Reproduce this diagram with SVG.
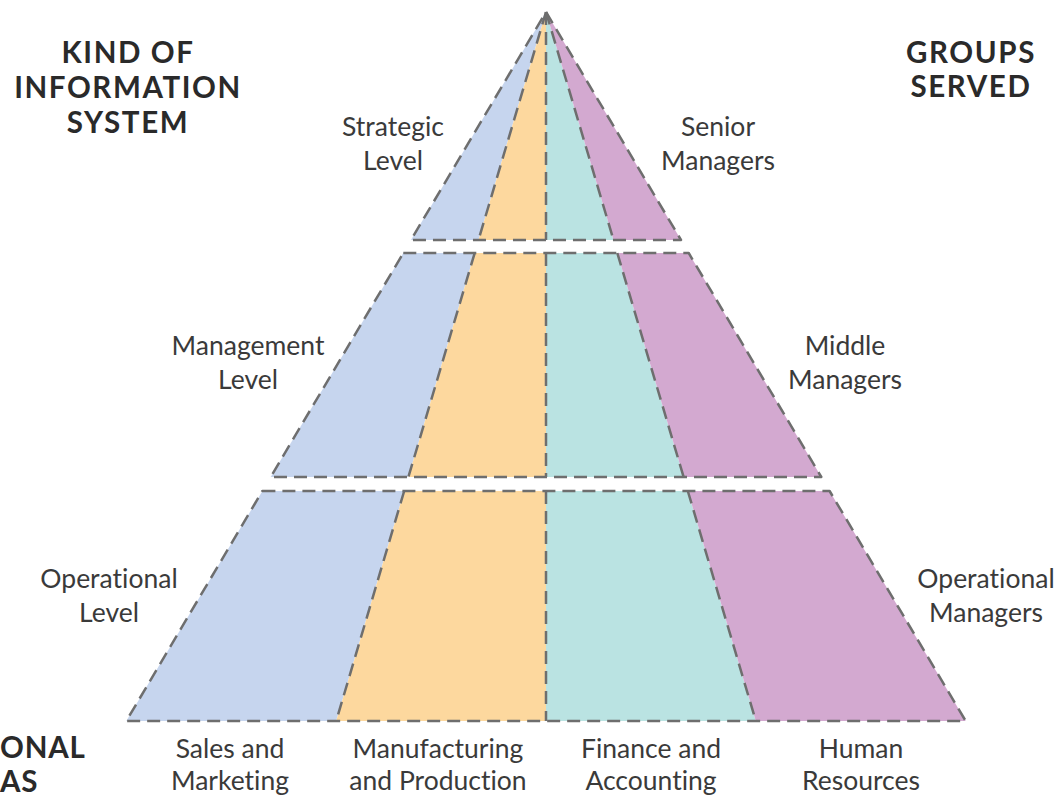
<svg xmlns="http://www.w3.org/2000/svg" width="1060" height="799" viewBox="0 0 1060 799">
  <style>
    .blue { fill: #c6d5ee; }
    .orange { fill: #fdd89e; }
    .teal { fill: #bae3e2; }
    .purple { fill: #d3a9d0; }
    .edge { fill: none; stroke: #6e6e6e; stroke-width: 2.5; stroke-dasharray: 13 7; stroke-linejoin: round; }
    text { font-variant-ligatures: none; }
    .head { font-family: Lato, "Liberation Sans", sans-serif; font-weight: bold; font-size: 29.5px; letter-spacing: 1.6px; fill: #2a2a2a; text-anchor: middle; }
    .lbl { font-family: Lato, "Liberation Sans", sans-serif; font-size: 26.5px; fill: #3a3a3a; text-anchor: middle; }
  </style>
  <rect width="1060" height="799" fill="#ffffff"/>

  <!-- top tier: strategic level -->
  <g id="tier-strategic">
    <polygon class="blue" points="546,12 411,240 478.5,240"/>
    <polygon class="orange" points="546,12 478.5,240 546,240"/>
    <polygon class="teal" points="546,12 546,240 613.5,240"/>
    <polygon class="purple" points="546,12 613.5,240 681,240"/>
    <polygon class="edge" points="546,12 681,240 411,240"/>
  </g>

  <!-- middle tier: management level -->
  <g id="tier-management">
    <polygon class="blue" points="403.3,253 474.7,253 408.4,477 270.7,477"/>
    <polygon class="orange" points="474.7,253 546,253 546,477 408.4,477"/>
    <polygon class="teal" points="546,253 617.3,253 683.6,477 546,477"/>
    <polygon class="purple" points="617.3,253 688.7,253 821.3,477 683.6,477"/>
    <polygon class="edge" points="403.3,253 688.7,253 821.3,477 270.7,477"/>
  </g>

  <!-- bottom tier: operational level -->
  <g id="tier-operational">
    <polygon class="blue" points="262.4,491 404.2,491 336.2,721 126.3,721"/>
    <polygon class="orange" points="404.2,491 546,491 546,721 336.2,721"/>
    <polygon class="teal" points="546,491 687.8,491 755.8,721 546,721"/>
    <polygon class="purple" points="687.8,491 829.6,491 965.7,721 755.8,721"/>
    <polygon class="edge" points="262.4,491 829.6,491 965.7,721 126.3,721"/>
  </g>

  <!-- dashed boundaries between functional areas -->
  <g id="dividers" class="edge">
    <line x1="546" y1="12" x2="478.5" y2="240"/>
    <line x1="546" y1="12" x2="546" y2="240"/>
    <line x1="546" y1="12" x2="613.5" y2="240"/>
    <line x1="474.7" y1="253" x2="408.4" y2="477"/>
    <line x1="546" y1="253" x2="546" y2="477"/>
    <line x1="617.3" y1="253" x2="683.6" y2="477"/>
    <line x1="404.2" y1="491" x2="336.2" y2="721"/>
    <line x1="546" y1="491" x2="546" y2="721"/>
    <line x1="687.8" y1="491" x2="755.8" y2="721"/>
  </g>

  <!-- column headings -->
  <g id="heading-kind">
    <text class="head" x="128" y="63">KIND OF</text>
    <text class="head" x="128" y="98">INFORMATION</text>
    <text class="head" x="128" y="133">SYSTEM</text>
  </g>
  <g id="heading-groups">
    <text class="head" x="971" y="63">GROUPS</text>
    <text class="head" x="971" y="97">SERVED</text>
  </g>
  <g id="heading-areas">
    <text class="head" x="0" y="758" style="text-anchor:start;letter-spacing:0.8px">ONAL</text>
    <text class="head" x="0" y="792" style="text-anchor:start;letter-spacing:0.8px">AS</text>
  </g>

  <!-- level labels -->
  <g id="label-strategic">
    <text class="lbl" x="393" y="136">Strategic</text>
    <text class="lbl" x="393" y="170">Level</text>
  </g>
  <g id="label-senior">
    <text class="lbl" x="718" y="136">Senior</text>
    <text class="lbl" x="718" y="170">Managers</text>
  </g>
  <g id="label-management">
    <text class="lbl" x="248" y="355">Management</text>
    <text class="lbl" x="248" y="389">Level</text>
  </g>
  <g id="label-middle">
    <text class="lbl" x="845" y="355">Middle</text>
    <text class="lbl" x="845" y="389">Managers</text>
  </g>
  <g id="label-operational">
    <text class="lbl" x="109" y="588">Operational</text>
    <text class="lbl" x="109" y="622">Level</text>
  </g>
  <g id="label-operational-managers">
    <text class="lbl" x="986" y="588">Operational</text>
    <text class="lbl" x="986" y="622">Managers</text>
  </g>

  <!-- functional area labels -->
  <g id="area-sales">
    <text class="lbl" x="230" y="758">Sales and</text>
    <text class="lbl" x="230" y="790">Marketing</text>
  </g>
  <g id="area-manufacturing">
    <text class="lbl" x="438" y="758">Manufacturing</text>
    <text class="lbl" x="438" y="790">and Production</text>
  </g>
  <g id="area-finance">
    <text class="lbl" x="651" y="758">Finance and</text>
    <text class="lbl" x="651" y="790">Accounting</text>
  </g>
  <g id="area-hr">
    <text class="lbl" x="861" y="758">Human</text>
    <text class="lbl" x="861" y="790">Resources</text>
  </g>
</svg>
